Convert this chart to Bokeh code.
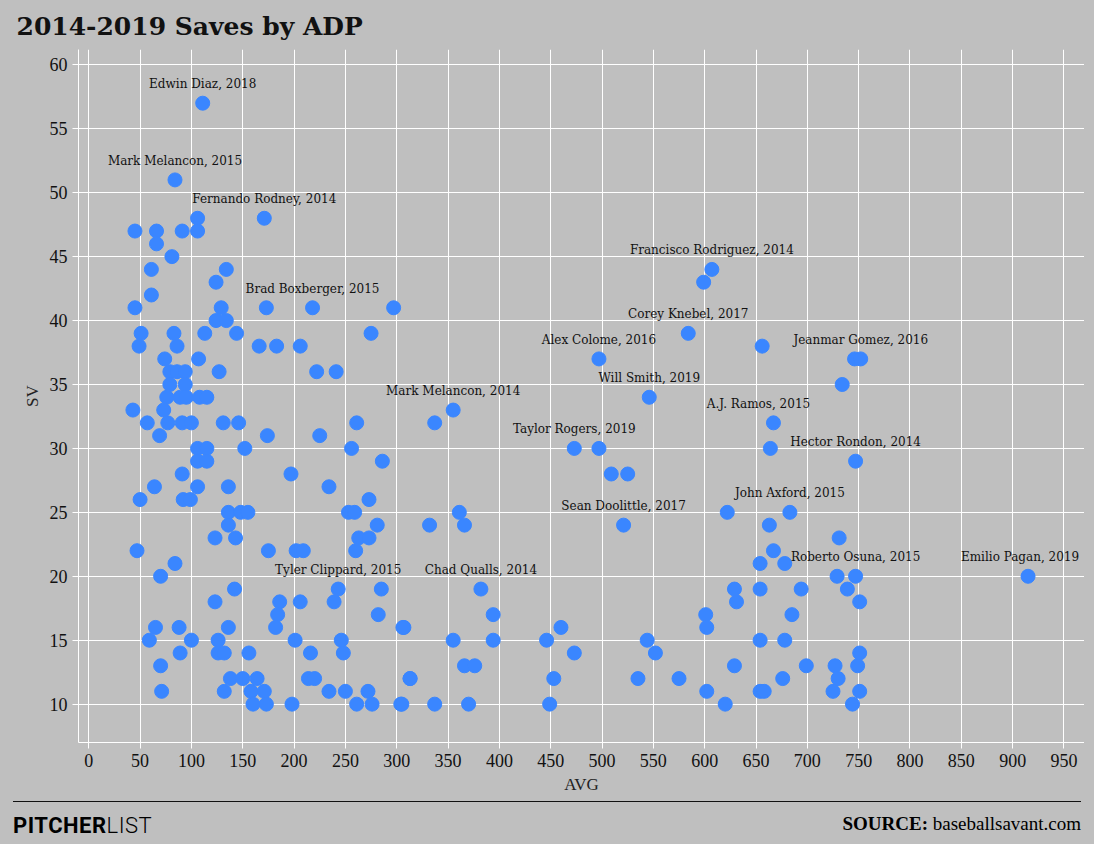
from bokeh.plotting import figure
from bokeh.models import ColumnDataSource, Div, FixedTicker, Range1d
from bokeh.layouts import column
from bokeh.embed import file_html
from bokeh.resources import INLINE
from bokeh.core.properties import value

# ADP (AVG) and saves (SV)
adp = [111, 84, 106, 171, 45, 66, 91, 106, 66, 81, 61, 134, 124, 61,
       45, 129, 173, 218, 297, 124, 134, 51, 83, 113, 144, 275,
       49, 86, 166, 183, 206, 74, 107, 79, 86, 94, 127, 222, 241,
       79, 94, 76, 89, 95, 108, 115, 43, 73,
       57, 77, 91, 100, 131, 146, 261, 69, 174, 225,
       106, 115, 152, 256, 106, 115, 286, 91, 197, 64, 106, 136,
       50, 92, 99, 273, 136, 148, 155, 253, 259, 136, 281,
       123, 143, 263, 273, 47, 175, 202, 209, 260, 84, 70,
       142, 243, 285, 123, 186, 206, 239, 184, 282,
       65, 88, 136, 182, 307, 59, 100, 126, 201, 246,
       89, 126, 132, 156, 216, 248, 70,
       138, 150, 164, 214, 220, 313, 71, 132, 158, 171, 234, 250, 272,
       160, 173, 198, 261, 276, 304,
       355, 337, 234, 332, 361, 366, 355, 366, 376, 382, 394, 394,
       337, 370, 305, 306, 313,
       446, 449, 453, 460, 473, 497, 473, 509, 525, 521, 497, 546,
       544, 552, 535, 575, 599, 607, 584, 601, 602, 602, 620,
       622, 629, 629, 631, 656, 654, 654, 654, 654, 658,
       663, 667, 667, 664, 676, 678, 678, 683, 685, 694, 699,
       725, 727, 730, 729, 731, 734, 739, 744, 746, 752, 747, 747,
       749, 751, 751, 751, 915]
sv = [57, 51, 48, 48, 47, 47, 47, 47, 46, 45, 44, 44, 43, 42,
      41, 41, 41, 41, 41, 40, 40, 39, 39, 39, 39, 39,
      38, 38, 38, 38, 38, 37, 37, 36, 36, 36, 36, 36, 36,
      35, 35, 34, 34, 34, 34, 34, 33, 33,
      32, 32, 32, 32, 32, 32, 32, 31, 31, 31,
      30, 30, 30, 30, 29, 29, 29, 28, 28, 27, 27, 27,
      26, 26, 26, 26, 25, 25, 25, 25, 25, 24, 24,
      23, 23, 23, 23, 22, 22, 22, 22, 22, 21, 20,
      19, 19, 19, 18, 18, 18, 18, 17, 17,
      16, 16, 16, 16, 16, 15, 15, 15, 15, 15,
      14, 14, 14, 14, 14, 14, 13,
      12, 12, 12, 12, 12, 12, 11, 11, 11, 11, 11, 11, 11,
      10, 10, 10, 10, 10, 10,
      33, 32, 27, 24, 25, 24, 15, 13, 13, 19, 17, 15,
      10, 10, 10, 16, 12,
      15, 10, 12, 16, 14, 30, 30, 28, 28, 24, 37, 34,
      15, 14, 12, 12, 43, 44, 39, 17, 16, 11, 10,
      25, 13, 19, 18, 38, 19, 21, 15, 11, 11,
      24, 22, 32, 30, 12, 21, 15, 25, 17, 19, 13,
      11, 13, 12, 20, 23, 35, 19, 10, 37, 37, 20, 29,
      13, 18, 14, 11, 20]

# labelled pitchers: (ADP, SV, text)
lab_adp = [111, 84, 171, 218, 607, 584, 497, 546, 752, 355, 473, 667, 747,
           521, 683, 747, 915, 243, 382]
lab_sv = [57, 51, 48, 41, 44, 39, 37, 34, 37, 33, 30, 32, 29, 24, 25, 20, 20, 19, 19]
lab_text = ["Edwin Diaz, 2018", "Mark Melancon, 2015", "Fernando Rodney, 2014",
            "Brad Boxberger, 2015", "Francisco Rodriguez, 2014", "Corey Knebel, 2017",
            "Alex Colome, 2016", "Will Smith, 2019", "Jeanmar Gomez, 2016",
            "Mark Melancon, 2014", "Taylor Rogers, 2019", "A.J. Ramos, 2015",
            "Hector Rondon, 2014", "Sean Doolittle, 2017", "John Axford, 2015",
            "Roberto Osuna, 2015", "Emilio Pagan, 2019", "Tyler Clippard, 2015",
            "Chad Qualls, 2014"]
lab_dx = [0, 0, 0, 0, 0, 0, 0, 0, 0, 0, 0, -15, 0, 0, 0, 0, -8, 0, 0]

x_ticks = list(range(0, 951, 50))
y_ticks = list(range(10, 61, 5))

BG = "#bfbfbf"
SERIF = "DejaVu Serif"

p = figure(width=1084, height=796, output_backend="svg", toolbar_location=None,
           x_range=Range1d(-10, 970), y_range=Range1d(7, 61.2),
           title="2014-2019 Saves by ADP")
p.background_fill_color = BG
p.border_fill_color = BG
p.outline_line_color = None
p.min_border_left = 78
p.min_border_right = 0
p.min_border_top = 28
p.title.text_font = SERIF
p.title.text_font_size = "25px"
p.title.text_font_style = "bold"
p.title.text_color = "#111111"
p.title.offset = -62
p.title.standoff = 18

p.scatter(adp, sv, size=14, color="#3a86ff", line_color="#3a86ff")

src = ColumnDataSource(dict(x=lab_adp, y=lab_sv, t=lab_text, dx=lab_dx))
p.text("x", "y", text="t", source=src, x_offset="dx", y_offset=-12,
       text_align="center", text_baseline="bottom", text_font=value(SERIF),
       text_font_size="12px", text_color="#111111")

p.xaxis.ticker = FixedTicker(ticks=x_ticks)
p.yaxis.ticker = FixedTicker(ticks=y_ticks)
p.xaxis.axis_label = "AVG"
p.yaxis.axis_label = "SV"
for ax in (p.xaxis, p.yaxis):
    ax.axis_label_text_font = "Liberation Serif"
    ax.axis_label_text_font_style = "normal"
    ax.axis_label_text_font_size = "17px"
    ax.axis_label_text_color = "#222222"
    ax.major_label_text_font = "Liberation Serif"
    ax.major_label_text_font_size = "18px"
    ax.axis_line_color = "white"
    ax.major_tick_line_color = "white"
    ax.minor_tick_line_color = None
    ax.major_label_text_color = "#111111"
p.grid.grid_line_color = "white"
p.grid.grid_line_width = 1

footer = Div(width=1084, height=38, styles={"background-color": BG}, text=(
    '<div style="border-top:1.5px solid #111;margin:0 8px;padding-top:8px;'
    'display:flex;justify-content:space-between;width:1068px">'
    '<span style="font-family:Roboto;font-size:22px;letter-spacing:0.5px">'
    '<b>PITCHER</b><span style="font-weight:300">LIST</span></span>'
    '<span style="font-family:\'Liberation Serif\';font-size:19px">'
    '<b>SOURCE:</b> baseballsavant.com</span></div>'))

layout = column(p, footer, spacing=0, styles={"background-color": BG})
open("out.html", "w").write(file_html(layout, INLINE))
